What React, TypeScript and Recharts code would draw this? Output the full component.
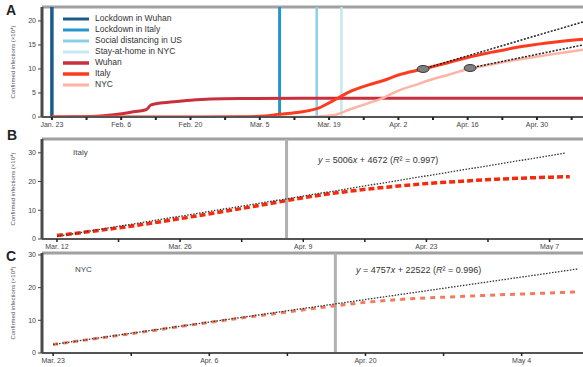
import React from 'react';
import { LineChart, Line, XAxis, YAxis, ReferenceLine, Legend } from 'recharts';

// Panel A: days since Jan. 23, confirmed infections (x10^4)
const wuhanA = [[0, 0], [5, 0.05], [9, 0.15], [12, 0.4], [16, 1.0], [19, 1.5], [20, 2.5], [21, 2.75], [24, 3.1], [28, 3.5], [32, 3.75], [38, 3.85], [50, 3.9], [107.3, 3.9]];
const italyA = [[0, 0], [30, 0], [38, 0.05], [43, 0.2], [46, 0.6], [50, 1.0], [54, 1.9], [57, 3.5], [60, 5.2], [64, 6.7], [67, 7.6], [70, 8.75], [75, 10], [80, 11.3], [84, 12.4], [89, 13.5], [94, 14.5], [100, 15.4], [107.3, 16.2]];
const nycA = [[0, 0], [50, 0], [53.5, 0.05], [57, 0.4], [60, 1.5], [64, 2.9], [67, 4.0], [70, 5.5], [73.5, 6.7], [77, 7.9], [80, 8.75], [84.5, 10.1], [89, 11.0], [94, 11.9], [100, 12.9], [107.3, 14.0]];
const italyProjA = [[75, 10], [107.3, 19.8]];
const nycProjA = [[84.5, 10.2], [107.3, 15.0]];
const eventDaysA = [0, 46, 53.5, 58.5];
const eventNamesA = ['Lockdown in Wuhan', 'Lockdown in Italy', 'Social distancing in US', 'Stay-at-home in NYC'];
const seriesNamesA = ['Wuhan', 'Italy', 'NYC'];
const tickLabelsA = ['Jan. 23', 'Feb. 6', 'Feb. 20', 'Mar. 5', 'Mar. 19', 'Apr. 2', 'Apr. 16', 'Apr. 30'];
const yTicksA = [0, 5, 10, 15, 20];

// Panel B: days since Mar. 12, Italy
const italyB = [[0, 1.2], [4, 2.7], [8, 4.3], [12, 6.1], [16, 8.1], [20, 10.1], [24, 12.2], [26, 13.3], [30, 15.3], [34, 16.9], [38, 18.2], [42, 19.3], [46, 20.1], [50, 20.8], [54, 21.3], [58.3, 21.7]];
const fitB = [[0, 0.9], [57.8, 29.9]];
const cutDayB = 26.1;
const tickLabelsB = ['Mar. 12', 'Mar. 26', 'Apr. 9', 'Apr. 23', 'May 7'];
const yTicksBC = [0, 10, 20, 30];

// Panel C: days since Mar. 23, NYC
const nycC = [[0, 2.6], [4, 4.5], [8, 6.4], [12, 8.4], [16, 10.3], [20, 12.1], [24, 13.9], [28, 15.5], [32, 16.6], [36, 17.2], [40, 17.8], [44, 18.3], [47, 18.7]];
const fitC = [[0, 2.6], [47, 25.7]];
const cutDayC = 25.3;
const tickLabelsC = ['Mar. 23', 'Apr. 6', 'Apr. 20', 'May 4'];

const eventColors = ['#1b5c8c', '#2596cc', '#8ccfe9', '#c6e7f4'];
const eventWidths = [3.5, 3, 2.5, 2.5];
const seriesColors = ['#c9303e', '#ff3b1f', '#ffb3a3'];
const seriesWidths = [3, 3, 2.5];

const FONT = '"Liberation Sans", Arial, sans-serif';
const toPts = (arr: number[][]) => arr.map(([d, v]) => ({ d, v }));
const tickDays = (max: number) => {
  const out: number[] = [];
  for (let d = 0; d <= max; d += 7) out.push(d);
  return out;
};
const fmt = (labels: string[]) => (d: number) => (d % 14 === 0 ? labels[d / 14] ?? '' : '');

const tickStyle = { fontSize: 7, fill: '#444', fontFamily: FONT };

const projDot = (props: any) => {
  const { cx, cy, index } = props;
  if (index !== 0) return <g key={'e' + index} />;
  return <ellipse key={'e' + index} cx={cx} cy={cy} rx={6} ry={3.5} fill="#808080" stroke="#333" strokeWidth={1} />;
};

const renderLegend = () => (
  <div style={{ fontFamily: FONT, fontSize: 8.5, color: '#333', lineHeight: '11px' }}>
    {eventNamesA.map((n, i) => (
      <div key={n} style={{ display: 'flex', alignItems: 'center' }}>
        <svg width={28} height={8}><line x1={1} x2={27} y1={4} y2={4} stroke={eventColors[i]} strokeWidth={3} /></svg>
        <span style={{ marginLeft: 5 }}>{n}</span>
      </div>
    ))}
    {seriesNamesA.map((n, i) => (
      <div key={n} style={{ display: 'flex', alignItems: 'center' }}>
        <svg width={28} height={8}><line x1={1} x2={27} y1={4} y2={4} stroke={seriesColors[i]} strokeWidth={seriesWidths[i] + 0.5} /></svg>
        <span style={{ marginLeft: 5 }}>{n}</span>
      </div>
    ))}
  </div>
);

const yLabel = (top: number) => (
  <div style={{ position: 'absolute', left: 13, top, transform: 'translate(-50%, -50%) rotate(-90deg)', whiteSpace: 'nowrap', fontSize: 6, color: '#555' }}>
    Confirmed infections (×10⁴)
  </div>
);

const panelLetter = (t: string, left: number, top: number) => (
  <div style={{ position: 'absolute', left, top, fontSize: 14, fontWeight: 'bold', color: '#222', lineHeight: 1 }}>{t}</div>
);

const App = () => {
  return (
    <div style={{ position: 'absolute', left: 0, top: 0, width: 583, height: 367, background: '#fff', fontFamily: FONT, overflow: 'hidden' }}>
      <div style={{ position: 'absolute', left: 0, top: 0 }}>
        <LineChart width={583} height={130} margin={{ top: 7, right: 0, bottom: 0, left: 0 }}>
          <XAxis dataKey="d" type="number" domain={[-2, 107.3]} allowDataOverflow ticks={tickDays(107)} interval={0}
            tickFormatter={fmt(tickLabelsA)} tick={tickStyle} tickSize={3} height={13}
            axisLine={{ stroke: '#555', strokeWidth: 2 }} tickLine={{ stroke: '#222', strokeWidth: 2 }} />
          <YAxis type="number" domain={[0, 22.9]} allowDataOverflow ticks={yTicksA} width={42} tick={tickStyle} tickSize={4}
            axisLine={{ stroke: '#4a4a4a', strokeWidth: 3 }} tickLine={{ stroke: '#444' }} />
          <ReferenceLine y={22.9} stroke="#a0a0a0" strokeWidth={3} />
          {eventDaysA.map((d, i) => (
            <ReferenceLine key={eventNamesA[i]} x={d} stroke={eventColors[i]} strokeWidth={eventWidths[i]} />
          ))}
          <Line data={toPts(wuhanA)} dataKey="v" type="monotone" stroke={seriesColors[0]} strokeWidth={seriesWidths[0]} dot={false} isAnimationActive={false} />
          <Line data={toPts(nycA)} dataKey="v" type="monotone" stroke={seriesColors[2]} strokeWidth={seriesWidths[2]} dot={false} isAnimationActive={false} />
          <Line data={toPts(italyA)} dataKey="v" type="monotone" stroke={seriesColors[1]} strokeWidth={seriesWidths[1]} dot={false} isAnimationActive={false} />
          <Line data={toPts(italyProjA)} dataKey="v" stroke="#222" strokeWidth={1.5} strokeDasharray="2 1.5" dot={projDot} isAnimationActive={false} />
          <Line data={toPts(nycProjA)} dataKey="v" stroke="#222" strokeWidth={1.5} strokeDasharray="2 1.5" dot={projDot} isAnimationActive={false} />
          <Legend content={renderLegend} layout="vertical" align="center" verticalAlign="middle"
            wrapperStyle={{ left: 62, top: 13, width: 160, height: 80 }} />
        </LineChart>
      </div>

      <div style={{ position: 'absolute', left: 0, top: 128 }}>
        <LineChart width={583} height={122} margin={{ top: 11, right: 0, bottom: 0, left: 0 }}>
          <XAxis dataKey="d" type="number" domain={[-1.7, 59.8]} allowDataOverflow ticks={tickDays(59)} interval={0}
            tickFormatter={fmt(tickLabelsB)} tick={tickStyle} tickSize={3} height={11}
            axisLine={{ stroke: '#555', strokeWidth: 2 }} tickLine={{ stroke: '#222', strokeWidth: 1.5 }} />
          <YAxis type="number" domain={[0, 34.8]} allowDataOverflow ticks={yTicksBC} width={42} tick={tickStyle} tickSize={4}
            axisLine={{ stroke: '#4a4a4a', strokeWidth: 3 }} tickLine={{ stroke: '#444' }} />
          <ReferenceLine y={34.8} stroke="#a0a0a0" strokeWidth={3} />
          <ReferenceLine x={cutDayB} stroke="#b0b0b0" strokeWidth={3} />
          <Line data={toPts(italyB)} dataKey="v" type="monotone" stroke="#f52a0c" strokeWidth={3.5} strokeDasharray="6 3" dot={false} isAnimationActive={false} />
          <Line data={toPts(fitB)} dataKey="v" stroke="#333" strokeWidth={1.3} strokeDasharray="1.5 1.5" dot={false} isAnimationActive={false} />
        </LineChart>
      </div>

      <div style={{ position: 'absolute', left: 0, top: 250 }}>
        <LineChart width={583} height={117} margin={{ top: 3, right: 0, bottom: 0, left: 0 }}>
          <XAxis dataKey="d" type="number" domain={[-1, 47.5]} allowDataOverflow ticks={tickDays(47)} interval={0}
            tickFormatter={fmt(tickLabelsC)} tick={tickStyle} tickSize={3} height={14}
            axisLine={{ stroke: '#555', strokeWidth: 2 }} tickLine={{ stroke: '#222', strokeWidth: 1.5 }} />
          <YAxis type="number" domain={[0, 30.6]} allowDataOverflow ticks={yTicksBC} width={42} tick={tickStyle} tickSize={4}
            axisLine={{ stroke: '#4a4a4a', strokeWidth: 3 }} tickLine={{ stroke: '#444' }} />
          <ReferenceLine y={30.6} stroke="#a0a0a0" strokeWidth={3} />
          <ReferenceLine x={cutDayC} stroke="#b0b0b0" strokeWidth={3} />
          <Line data={toPts(nycC)} dataKey="v" type="monotone" stroke="#f47a5e" strokeWidth={3} strokeDasharray="5 5" dot={false} isAnimationActive={false} />
          <Line data={toPts(fitC)} dataKey="v" stroke="#333" strokeWidth={1.3} strokeDasharray="1.5 1.5" dot={false} isAnimationActive={false} />
        </LineChart>
      </div>

      {panelLetter('A', 6, 3)}
      {panelLetter('B', 7, 128)}
      {panelLetter('C', 6, 249)}
      {yLabel(62)}
      {yLabel(189)}
      {yLabel(303)}
      <div style={{ position: 'absolute', left: 73, top: 148, fontSize: 8, color: '#444' }}>Italy</div>
      <div style={{ position: 'absolute', left: 75, top: 265, fontSize: 8, color: '#444' }}>NYC</div>
      <div style={{ position: 'absolute', left: 318, top: 155, fontSize: 9, color: '#333', whiteSpace: 'nowrap' }}>
        <i>y</i> = 5006<i>x</i> + 4672 (<i>R</i>² = 0.997)
      </div>
      <div style={{ position: 'absolute', left: 356, top: 265, fontSize: 9, color: '#333', whiteSpace: 'nowrap' }}>
        <i>y</i> = 4757<i>x</i> + 22522 (<i>R</i>² = 0.996)
      </div>
    </div>
  );
};

export default App;
